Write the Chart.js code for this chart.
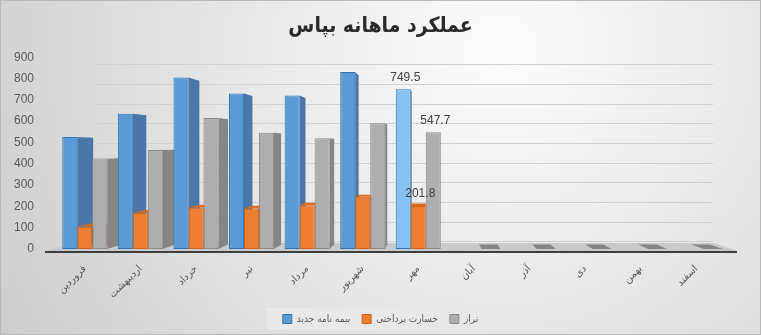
<!DOCTYPE html>
<html>
<head>
<meta charset="utf-8">
<script src="https://cdn.jsdelivr.net/npm/chart.js@4/dist/chart.umd.min.js"></script>
<style>
  html, body { margin: 0; padding: 0; background: #dcdcdc; }
  #wrap { width: 761px; height: 335px; position: relative; box-sizing: border-box; border: 1px solid #b9b9b9; }
  canvas { display: block; }
</style>
</head>
<body>
<div id="wrap"><canvas id="c" width="759" height="333"></canvas></div>
<script>
// ---- data ----
const months = ['فروردین','اردیبهشت','خرداد','تیر','مرداد','شهریور','مهر','آبان','آذر','دی','بهمن','اسفند'];
const newPolicies = [525, 635, 805, 730, 720, 830, 749.5, 0, 0, 0, 0, 0];
const paidClaims  = [105, 170, 195, 190, 205, 245, 201.8, 0, 0, 0, 0, 0];
const balance     = [425, 465, 615, 545, 520, 590, 547.7, 0, 0, 0, 0, 0];
const seriesNames = ['بیمه نامه جدید', 'خسارت پرداختی', 'تراز'];
const yTicks = [0, 100, 200, 300, 400, 500, 600, 700, 800, 900];
const titleText = 'عملکرد ماهانه بپاس';
const labeledMonth = 'مهر';

// ---- styles ----
const faceStyle = [
  { front: '#5b9bd5', border: '#2e75b6', side: '#4a76a8', top: '#7fb2e3', hi: '#86c1f3' },
  { front: '#ed7d31', border: '#cf6219', side: '#b55a1c', top: '#de6a20' },
  { front: '#aeaeae', border: '#898989', side: '#858585', top: '#c6c6c6', zero: '#858585' }
];
const VPX = 0.56, VPY = 0.48, BAR_DEPTH = 0.045, WALL_DEPTH = 0.078;

function vp(chart) {
  const a = chart.chartArea;
  return { x: a.left + VPX * (a.right - a.left), y: a.top + VPY * (a.bottom - a.top) };
}
function backPt(p, v, k) { return { x: p.x + k * (v.x - p.x), y: p.y + k * (v.y - p.y) }; }
function poly(ctx, pts, fill) {
  ctx.beginPath();
  ctx.moveTo(pts[0].x, pts[0].y);
  for (let i = 1; i < pts.length; i++) ctx.lineTo(pts[i].x, pts[i].y);
  ctx.closePath();
  ctx.fillStyle = fill;
  ctx.fill();
}

const bgPlugin = {
  id: 'bg',
  beforeDraw(chart) {
    const ctx = chart.ctx, w = chart.width, h = chart.height;
    ctx.save();
    const g = ctx.createRadialGradient(w * 0.66, h * 0.15, 10, w * 0.66, h * 0.15, w * 0.75);
    g.addColorStop(0, '#fbfbfb');
    g.addColorStop(0.55, '#e3e3e3');
    g.addColorStop(1, '#cdcdcd');
    ctx.fillStyle = g;
    ctx.fillRect(0, 0, w, h);
    const lg = chart.legend;
    if (lg && lg.legendHitBoxes && lg.legendHitBoxes.length) {
      const boxes = lg.legendHitBoxes;
      const last = boxes[boxes.length - 1];
      const l = boxes[0].left - 16, r = last.left + last.width + 10;
      ctx.fillStyle = 'rgba(232,232,232,0.95)';
      ctx.fillRect(l, boxes[0].top - 6, r - l, boxes[0].height + 12);
    }
    ctx.restore();
  }
};

const threeD = {
  id: 'threeD',
  beforeDatasetsDraw(chart) {
    const ctx = chart.ctx, a = chart.chartArea, v = vp(chart);
    const ys = chart.scales.y;
    ctx.save();
    const fy = a.bottom + 2;
    const fl = { x: a.left - 12, y: fy }, fr = { x: a.right + 13, y: fy };
    const bl = backPt(fl, v, WALL_DEPTH), br = backPt(fr, v, WALL_DEPTH);
    poly(ctx, [fl, fr, br, bl], '#c9c9c9');
    ctx.strokeStyle = '#d0d0d0';
    ctx.lineWidth = 1;
    yTicks.forEach(t => {
      const y = ys.getPixelForValue(t);
      const p1 = backPt({ x: a.left + 12, y: y }, v, WALL_DEPTH);
      const p2 = backPt({ x: a.right + 13, y: y }, v, WALL_DEPTH);
      ctx.beginPath();
      ctx.moveTo(p1.x, Math.round(p1.y) + 0.5);
      ctx.lineTo(p2.x, Math.round(p1.y) + 0.5);
      ctx.stroke();
    });
    ctx.strokeStyle = '#3f3f3f';
    ctx.lineWidth = 2;
    ctx.beginPath();
    ctx.moveTo(fl.x, fy + 1);
    ctx.lineTo(fr.x, fy + 1);
    ctx.stroke();
    const metas = chart.data.datasets.map((d, i) => chart.getDatasetMeta(i));
    const n = chart.data.labels.length;
    for (let j = 0; j < n; j++) {
      metas.forEach((m, di) => {
        const el = m.data[j];
        if (!el) return;
        const st = faceStyle[di];
        const val = chart.data.datasets[di].data[j];
        const w = el.width, l = el.x - w / 2, r = el.x + w / 2, t = el.y, b = el.base;
        if (val === 0) {
          if (st.zero) {
            poly(ctx, [{ x: l, y: b }, { x: r + 4, y: b }, backPt({ x: r + 4, y: b }, v, BAR_DEPTH), backPt({ x: l, y: b }, v, BAR_DEPTH)], st.zero);
          }
          return;
        }
        if (r < v.x) {
          poly(ctx, [{ x: r, y: t }, backPt({ x: r, y: t }, v, BAR_DEPTH), backPt({ x: r, y: b }, v, BAR_DEPTH), { x: r, y: b }], st.side);
        } else if (l > v.x) {
          poly(ctx, [{ x: l, y: t }, backPt({ x: l, y: t }, v, BAR_DEPTH), backPt({ x: l, y: b }, v, BAR_DEPTH), { x: l, y: b }], st.side);
        }
        if (t > v.y) {
          poly(ctx, [{ x: l, y: t }, { x: r, y: t }, backPt({ x: r, y: t }, v, BAR_DEPTH), backPt({ x: l, y: t }, v, BAR_DEPTH)], st.top);
        }
      });
    }
    ctx.restore();
  },
  afterDatasetsDraw(chart) {
    const ctx = chart.ctx;
    const j = chart.data.labels.indexOf(labeledMonth);
    if (j < 0) return;
    ctx.save();
    ctx.font = '12px "Liberation Sans", Arial, sans-serif';
    ctx.fillStyle = '#404040';
    ctx.textAlign = 'center';
    ctx.textBaseline = 'middle';
    chart.data.datasets.forEach((d, di) => {
      const el = chart.getDatasetMeta(di).data[j];
      ctx.fillText(String(d.data[j]), el.x + 2, el.y - 12);
    });
    ctx.restore();
  }
};

const idxHi = months.indexOf(labeledMonth);
const datasets = [newPolicies, paidClaims, balance].map((arr, i) => ({
  label: seriesNames[i],
  data: arr,
  backgroundColor: ctx => (i === 0 && ctx.dataIndex === idxHi) ? faceStyle[i].hi : faceStyle[i].front,
  borderColor: faceStyle[i].border,
  borderWidth: 1,
  borderSkipped: false,
  categoryPercentage: 0.81,
  barPercentage: 1.0
}));

new Chart(document.getElementById('c'), {
  type: 'bar',
  data: { labels: months, datasets: datasets },
  options: {
    responsive: false,
    animation: false,
    layout: { padding: { left: 0, right: 0, top: 0, bottom: 0 } },
    plugins: {
      title: {
        display: true,
        text: titleText,
        font: { family: '"DejaVu Sans Condensed", "DejaVu Sans", sans-serif', size: 21, weight: 'bold' },
        color: '#2b2b2b',
        padding: { top: 13, bottom: 18 }
      },
      legend: {
        position: 'bottom',
        labels: {
          font: { family: '"DejaVu Sans Condensed", "DejaVu Sans", sans-serif', size: 10 },
          color: '#595959',
          boxWidth: 9,
          boxHeight: 9,
          padding: 12,
          generateLabels: chart => chart.data.datasets.map((d, i) => ({
            text: d.label,
            fillStyle: faceStyle[i].front,
            strokeStyle: faceStyle[i].border,
            lineWidth: 1,
            datasetIndex: i,
            fontColor: '#595959'
          }))
        }
      },
      tooltip: { enabled: false }
    },
    scales: {
      x: {
        grid: { display: false },
        border: { display: false },
        ticks: {
          font: { family: '"DejaVu Sans", sans-serif', size: 10 },
          color: '#595959',
          minRotation: 45,
          maxRotation: 45,
          padding: 6
        },
        afterFit: s => { s.height = 53; }
      },
      y: {
        min: 0,
        max: 900,
        grid: { display: false },
        border: { display: false },
        afterBuildTicks: s => { s.ticks = yTicks.map(v => ({ value: v })); },
        ticks: {
          font: { family: '"Liberation Sans", Arial, sans-serif', size: 12 },
          color: '#595959',
          padding: 15
        },
        afterFit: s => { s.width = 56; }
      },
      yRightSpace: {
        position: 'right',
        display: true,
        grid: { display: false },
        border: { display: false },
        ticks: { display: false },
        afterFit: s => { s.width = 36; }
      }
    }
  },
  plugins: [bgPlugin, threeD]
});
</script>
</body>
</html>
